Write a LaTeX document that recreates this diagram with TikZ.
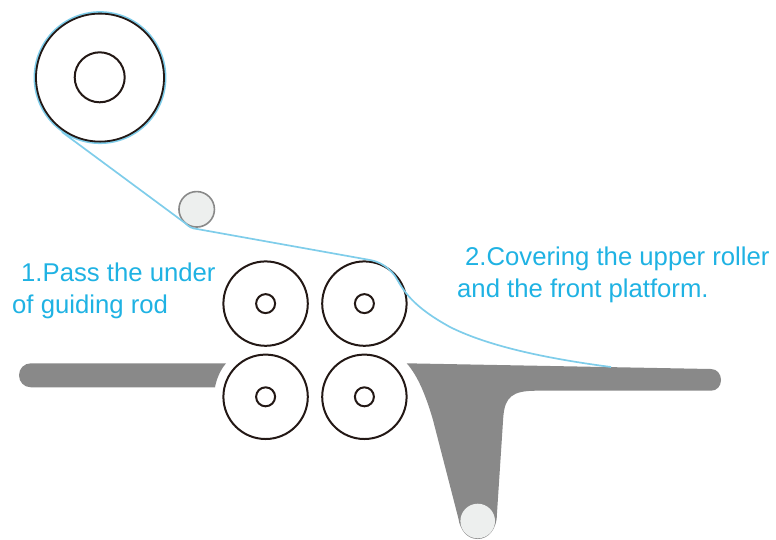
\documentclass[tikz,border=0pt]{standalone}
\usepackage{fontspec}
\setmainfont{Liberation Sans}
\usetikzlibrary{matrix}
\definecolor{beltblue}{HTML}{7FCDEA}
\definecolor{textblue}{HTML}{1FB2E3}
\definecolor{platgray}{HTML}{898989}
\definecolor{rodfill}{HTML}{EDEFEE}
\definecolor{rimblack}{HTML}{231815}
\tikzset{
	roller/.style={circle, draw=rimblack, line width=2pt, minimum size=84.4pt, inner sep=0pt, outer sep=0pt},
	hub/.style={circle, draw=rimblack, line width=2pt, fill=white, minimum size=19pt, inner sep=0pt},
	rod/.style={circle, draw=platgray, line width=1.6pt, fill=rodfill, inner sep=0pt},
	belt/.style={draw=beltblue, line width=1.7pt},
	caption/.style={text=textblue, font=\fontsize{25.7}{30}\selectfont, inner sep=0pt, anchor=base west}
}
\begin{document}
\begin{tikzpicture}[x=1pt, y=-1pt]
	\useasboundingbox (0,0) rectangle (776,539);
	% platforms
	\fill[platgray] (226,363.3) -- (31,363.3) .. controls (24,363.3) and (19,368.5) .. (19,375.3) .. controls (19,382) and (24,387.3) .. (31,387.3) -- (215,387.3) .. controls (216.5,379) and (220,370.5) .. cycle;
	\fill[platgray] (406.7,363.3) -- (711,369) .. controls (717,369) and (721,374) .. (721,380) .. controls (721,386) and (717,390.7) .. (711,390.7) -- (536.7,390.7) .. controls (512,390.7) and (505,397) .. (503.3,416.7) -- (497,513) .. controls (497,530) and (488,539) .. (477.7,539) .. controls (467,539) and (460,530) .. (458.3,518) -- (433,420) .. controls (426,396) and (418,376) .. cycle;
	% belt
	\node (roll) [circle, draw=beltblue, line width=2.4pt, minimum size=130.5pt, inner sep=0pt] at (100,77.6) {};
	\node (rollin) [circle, draw=rimblack, line width=1.8pt, minimum size=128pt, inner sep=0pt] at (100,77.6) {};
	\node (rollhub) [hub, minimum size=50pt] at (99.7,77.3) {};
	\node (guide) [rod, minimum size=35.5pt] at (196.7,209.3) {};
	\node (tail) [rod, draw=none, minimum size=34.6pt] at (477.7,521) {};
	\matrix (R) [matrix of nodes, nodes in empty cells, nodes={roller}, column sep=12.4pt, row sep=6.8pt] at (315,350.2) {
		& \\
		& \\
	};
	\foreach \r in {1,2} {
		\foreach \c in {1,2} {
			\node (H\r\c) [hub] at (R-\r-\c) {};
		}
	}
	\draw[belt] (62,132) -- (185,223) .. controls (189,227) and (192,228.5) .. (197,229) -- (370,260) .. controls (381,262) and (389,268) .. (395,276) .. controls (402,287) and (408,304) .. (450,327) .. controls (490,347) and (550,359) .. (611,367);
	% captions
	\node (cap1a) [caption] at (21,281.5) {1.Pass the under};
	\node (cap1b) [caption] at (12,313) {of guiding rod};
	\node (cap2a) [caption] at (465,265) {2.Covering the upper roller};
	\node (cap2b) [caption] at (457,297) {and the front platform.};
\end{tikzpicture}
\end{document}
